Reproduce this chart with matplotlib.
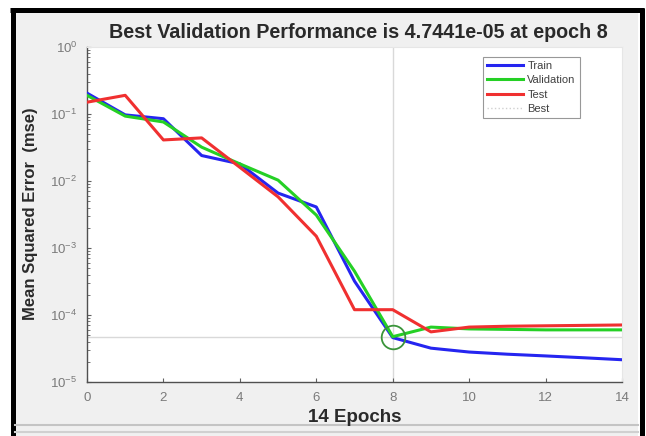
import numpy as np
import matplotlib
matplotlib.use("Agg")
import matplotlib.pyplot as plt
from matplotlib.lines import Line2D
from matplotlib.patches import Rectangle

plt.rcParams['font.family'] = ['Liberation Sans', 'DejaVu Sans']

epochs = [0, 1, 2, 3, 4, 5, 6, 7, 8, 9, 10, 11, 12, 13, 14]
train = [0.205, 0.097, 0.085, 0.024, 0.018, 0.0066, 0.0041, 3.2e-4, 4.6e-5,
         3.2e-5, 2.8e-5, 2.6e-5, 2.45e-5, 2.3e-5, 2.15e-5]
validation = [0.19, 0.093, 0.076, 0.032, 0.018, 0.0103, 0.0031, 4.5e-4, 4.7441e-5,
              6.6e-5, 6.2e-5, 6.1e-5, 6.0e-5, 6.0e-5, 6.0e-5]
test = [0.15, 0.19, 0.041, 0.044, 0.016, 0.0058, 0.0015, 1.2e-4, 1.2e-4,
        5.6e-5, 6.6e-5, 6.8e-5, 6.9e-5, 7.0e-5, 7.1e-5]
best_epoch = 8
best_perf = 4.7441e-05
title_text = "Best Validation Performance is 4.7441e-05 at epoch 8"
xlabel_text = "14 Epochs"
ylabel_text = "Mean Squared Error  (mse)"

W, H = 646, 436
fig = plt.figure(figsize=(W / 100, H / 100), dpi=100, facecolor='white')

# gray panel
fig.add_artist(Rectangle((15 / W, 0), (638 - 15) / W, (436 - 13) / H,
                         transform=fig.transFigure, facecolor='#f0f0f0',
                         edgecolor='none', zorder=0))
# black frame (open at bottom)
lw = 5 * 72 / 100
for xs, ys in [((12.5, 12.5), (8, 436)), ((641.5, 641.5), (8, 436)), ((10, 644), (10.5, 10.5))]:
    fig.add_artist(Line2D([xs[0] / W, xs[1] / W], [1 - ys[0] / H, 1 - ys[1] / H],
                          transform=fig.transFigure, color='black', lw=lw,
                          solid_capstyle='butt', zorder=1))
for yy, c in [(425, '#c4c4c4'), (432, '#d0d0d0')]:
    fig.add_artist(Line2D([15 / W, 638 / W], [1 - yy / H, 1 - yy / H],
                          transform=fig.transFigure, color=c, lw=1.5, zorder=1))

ax = fig.add_axes([87 / W, 1 - 382 / H, (622 - 87) / W, (382 - 47) / H])
ax.set_zorder(5)
ax.set_facecolor('white')
ax.set_yscale('log')
ax.set_xlim(0, 14)
ax.set_ylim(1e-5, 1e0)

ax.axvline(best_epoch, color='#d9d9d9', lw=1, zorder=1)
ax.axhline(best_perf, color='#d9d9d9', lw=1, zorder=1)

ax.plot(epochs, train, color='#2525f0', lw=2.2, label='Train', zorder=3)
ax.plot(epochs, validation, color='#25d025', lw=2.2, label='Validation', zorder=3)
ax.plot(epochs, test, color='#f03030', lw=2.2, label='Test', zorder=4)
ax.plot([best_epoch], [best_perf], 'o', mfc='none', mec='#3a943a', ms=17, mew=1.3, zorder=5)
best_handle = Line2D([], [], color='#d0d0d0', lw=1, linestyle=':')

handles, labels = ax.get_legend_handles_labels()
handles.append(best_handle)
labels.append('Best')
leg = ax.legend(handles, labels, loc='upper left', bbox_to_anchor=(0.74, 0.970),
                borderaxespad=0, fontsize=8, frameon=True, fancybox=False,
                handlelength=3.3, handletextpad=0.35, borderpad=0.35,
                labelspacing=0.4)
leg.get_frame().set_edgecolor('#7f7f7f')
leg.get_frame().set_linewidth(0.8)
for t in leg.get_texts():
    t.set_color('#404040')

ax.set_xticks([0, 2, 4, 6, 8, 10, 12, 14])
ax.tick_params(axis='both', which='both', direction='in', colors='#606060',
               labelsize=9.5, labelcolor='#7a7a7a')
ax.tick_params(which='major', length=3)
ax.tick_params(which='minor', length=2)
ax.tick_params(axis='x', pad=7)
ax.tick_params(axis='y', pad=7)
for s in ['left', 'bottom']:
    ax.spines[s].set_color('#505050')
    ax.spines[s].set_linewidth(1)
for s in ['top', 'right']:
    ax.spines[s].set_color('#e6e6e6')

fig.text(358 / W, 1 - 32 / H, title_text, fontsize=14.2, fontweight='bold',
         color='#2a2a2a', ha='center', va='center')
fig.text(355 / W, 1 - 417 / H, xlabel_text, fontsize=13.5, fontweight='bold',
         color='#2a2a2a', ha='center', va='center')
fig.text(31 / W, 1 - 214 / H, ylabel_text, fontsize=12, fontweight='bold',
         color='#2a2a2a', ha='center', va='center', rotation=90)

fig.savefig('out.png', dpi=100, facecolor=fig.get_facecolor())
